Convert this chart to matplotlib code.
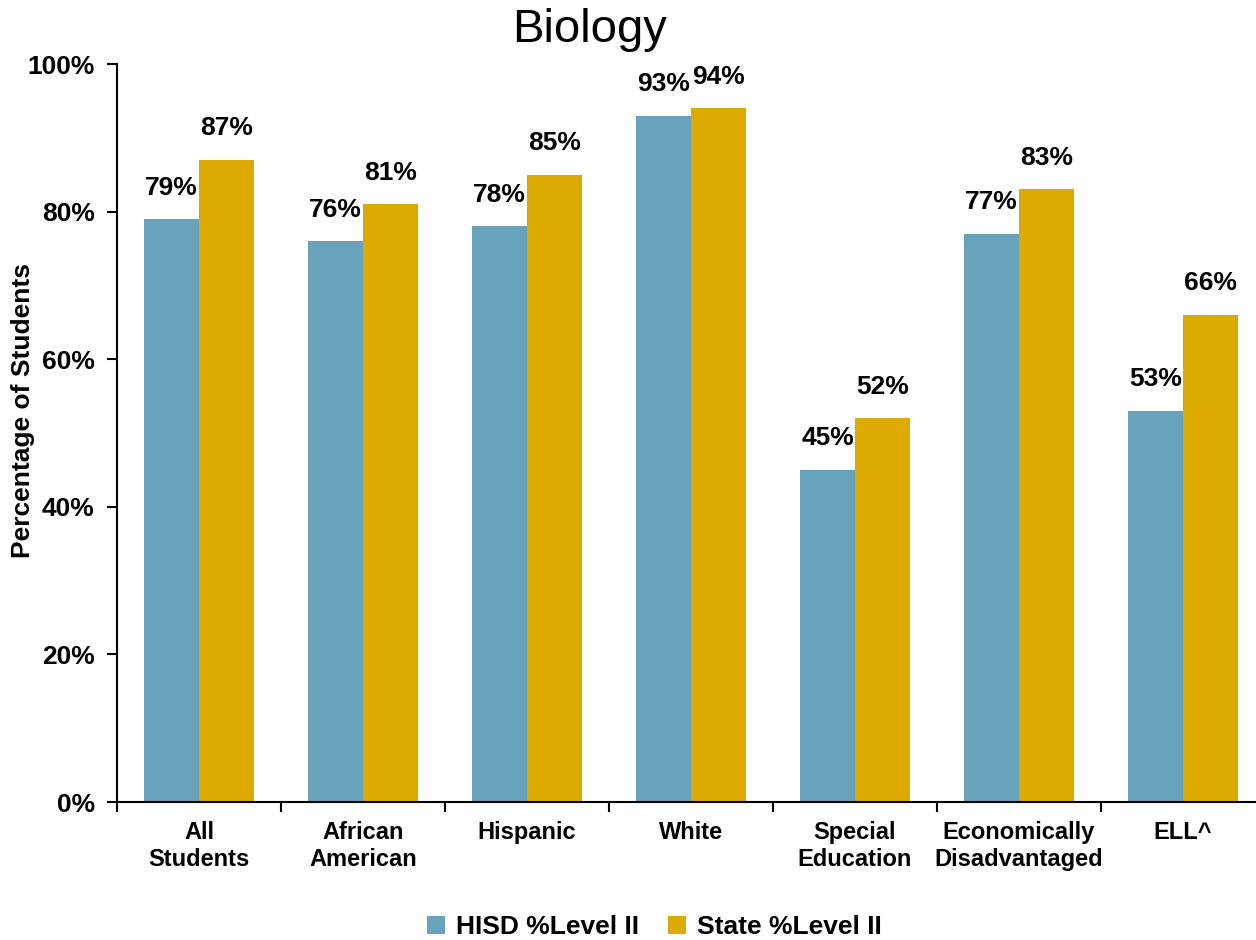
import numpy as np
import matplotlib.pyplot as plt
from matplotlib.ticker import PercentFormatter

plt.rcParams['font.family'] = ['Liberation Sans', 'DejaVu Sans']

categories = ['All\nStudents', 'African\nAmerican', 'Hispanic', 'White',
              'Special\nEducation', 'Economically\nDisadvantaged', 'ELL^']
hisd = [79, 76, 78, 93, 45, 77, 53]
state = [87, 81, 85, 94, 52, 83, 66]
series_names = ['HISD %Level II', 'State %Level II']
colors = ['#67A3BA', '#DCAA00']

fig = plt.figure(figsize=(12.56, 9.4), dpi=100)
ax = fig.add_axes([117 / 1256, 138 / 940, 1148 / 1256, 738 / 940])

x = np.arange(len(categories)) + 0.5
w = 0.335
b1 = ax.bar(x - w / 2, hisd, w, color=colors[0], label=series_names[0])
b2 = ax.bar(x + w / 2, state, w, color=colors[1], label=series_names[1])

for bars, vals in ((b1, hisd), (b2, state)):
    for r, v in zip(bars, vals):
        ax.annotate(f'{v}%', (r.get_x() + r.get_width() / 2, v),
                    xytext=(0, 14), textcoords='offset points',
                    ha='center', va='bottom', fontsize=19, fontweight='bold')

ax.set_xlim(0, len(categories))
ax.set_ylim(0, 100)
ax.set_yticks([0, 20, 40, 60, 80, 100])
ax.yaxis.set_major_formatter(PercentFormatter(decimals=0))
ax.set_xticks(x)
ax.set_xticklabels(categories, fontsize=17, fontweight='bold')
ax.tick_params(axis='x', which='major', length=0, pad=14)
ax.set_xticks(np.arange(len(categories) + 1), minor=True)
ax.tick_params(axis='x', which='minor', length=7, width=1.5)
ax.tick_params(axis='y', length=7, width=1.5, labelsize=19, pad=9)
for lab in ax.get_yticklabels():
    lab.set_fontweight('bold')

for s in ('top', 'right'):
    ax.spines[s].set_visible(False)
for s in ('left', 'bottom'):
    ax.spines[s].set_linewidth(1.5)

ax.set_ylabel('Percentage of Students', fontsize=19, fontweight='bold')
ax.yaxis.set_label_coords(-0.071, 0.53)
fig.text(590 / 1256, 1 - 30 / 940, 'Biology', fontsize=34, ha='center', va='center')

fig.legend(loc='center', bbox_to_anchor=(654 / 1256, 1 - 927 / 940), ncol=2,
           frameon=False, prop={'size': 19, 'weight': 'bold'},
           handlelength=0.7, handleheight=0.7, handletextpad=0.4, columnspacing=1.1)

fig.savefig('out.png', dpi=100)
